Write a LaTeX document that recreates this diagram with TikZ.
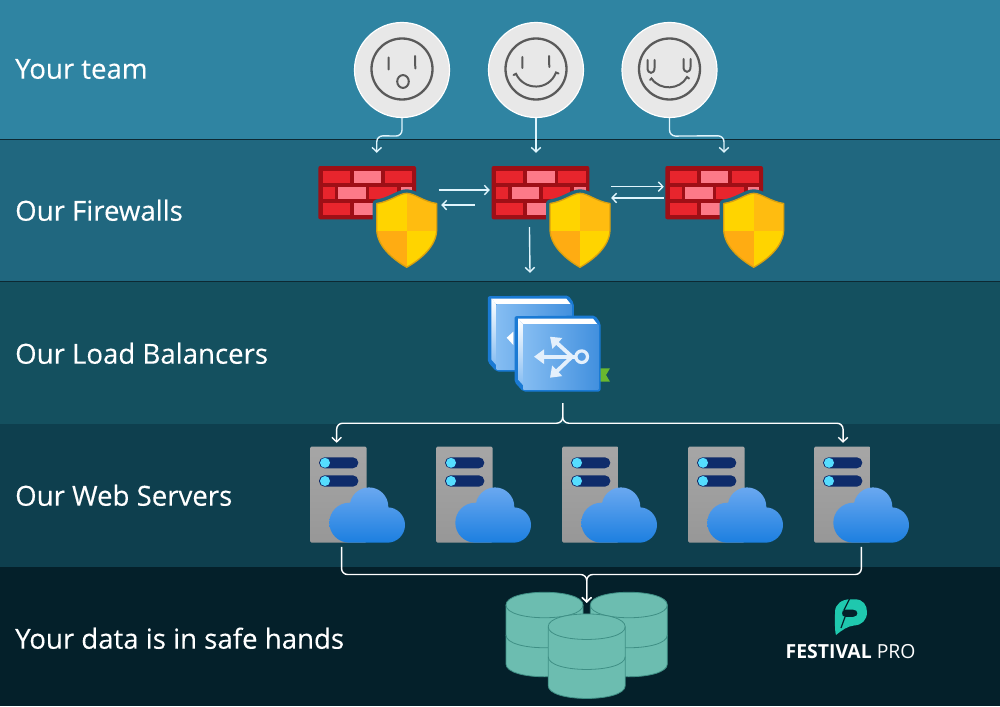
\documentclass[tikz,border=0pt]{standalone}
\usepackage{fontspec}
\setmainfont{Open Sans}
\newfontfamily\labelfont[FakeBold=0.25]{Open Sans}
\usetikzlibrary{arrows.meta,calc}
\definecolor{bandA}{HTML}{2F84A2}
\definecolor{bandB}{HTML}{20677F}
\definecolor{bandC}{HTML}{14505F}
\definecolor{bandD}{HTML}{0E3F4E}
\definecolor{bandE}{HTML}{04202A}
\definecolor{faceg}{HTML}{5A5A5A}
\definecolor{faceb}{HTML}{E8E8E8}
\definecolor{wallD}{HTML}{9E0F16}
\definecolor{wallR}{HTML}{E8252D}
\definecolor{wallP}{HTML}{FC7A88}
\definecolor{shY}{HTML}{FFD400}
\definecolor{shO}{HTML}{FFAC12}
\definecolor{shT}{HTML}{FFBC10}
\definecolor{shE}{HTML}{D9A010}
\definecolor{bookE}{HTML}{1A7AD4}
\definecolor{bookL}{HTML}{85BDF2}
\definecolor{bookR}{HTML}{4290DE}
\definecolor{iconW}{HTML}{E4F0FC}
\definecolor{slotC}{HTML}{0F2C6B}
\definecolor{dotC}{HTML}{55DDFF}
\definecolor{srvT}{HTML}{A6A6A6}
\definecolor{srvB}{HTML}{979797}
\definecolor{cloudT}{HTML}{6AA8F0}
\definecolor{cloudB}{HTML}{1C7FE0}
\definecolor{dbF}{HTML}{6CBDB0}
\definecolor{dbE}{HTML}{3F8F85}
\definecolor{logoT}{HTML}{1FC8AE}
\definecolor{flagC}{HTML}{6AB82E}
\tikzset{
  label/.style={anchor=base west,inner sep=0pt,text=white,font=\labelfont\fontsize{27.6}{32}\selectfont},
  facenode/.style={circle,minimum size=95pt,inner sep=0pt,fill=faceb,draw=white,line width=1.2pt},
  ring/.style={draw=faceg,line width=2.3pt},
  feat/.style={draw=faceg,line width=2pt,line cap=round},
  conn/.style={draw=white,line width=1.4pt,rounded corners=6pt,-{Straight Barb[length=4.5pt,width=9.5pt,line width=1.4pt]}},
  connlight/.style={conn,draw=white!88!cyan},
  wallnode/.style={rectangle,minimum width=97.7pt,minimum height=53.3pt,inner sep=0pt,fill=wallD,rounded corners=2pt},
  srvnode/.style={rectangle,minimum width=56.7pt,minimum height=96pt,inner sep=0pt,top color=srvT,bottom color=srvB,rounded corners=1.5pt},
  hold/.style={rectangle,inner sep=0pt,draw=none},
  iconarrow/.style={draw=iconW,line width=3.8pt,-{Triangle[length=10pt,width=14pt]}},
}
\def\shieldpath{(88.4,27.3) .. controls (81,27.3) and (72,35.5) .. (58.4,37.5) -- (58.4,64) .. controls (59,80) and (74,93) .. (88.4,101.3) .. controls (103,93) and (118,80) .. (118.4,64) -- (118.4,37.5) .. controls (105,35.5) and (96,27.3) .. (88.4,27.3) -- cycle}
\newcommand{\firewall}[2]{%
 \begin{scope}[shift={(#1,#2)}]
  \fill[wallR] (4.4,4.7) rectangle (31.7,16.7);
  \fill[wallP] (35.7,4.7) rectangle (63,16.7);
  \fill[wallR] (66.7,4.7) rectangle (94,16.7);
  \fill[wallR] (4.4,20.7) rectangle (16.7,33);
  \fill[wallP] (20,20.7) rectangle (47.4,33);
  \fill[wallR] (51,20.7) rectangle (78.4,33);
  \fill[wallP] (82.4,20.7) rectangle (94,33);
  \fill[wallR] (4.4,36.7) rectangle (31.7,49);
  \fill[wallP] (35.7,36.7) rectangle (63,49);
  \fill[wallR] (66.7,36.7) rectangle (94,49);
  \path[fill=bandB,draw=bandB,line width=8pt,line join=round] \shieldpath;
  \begin{scope}
   \clip \shieldpath;
   \fill[shY] (58,20) rectangle (88.4,65);
   \fill[shT] (88.4,20) rectangle (120,65);
   \fill[shO] (58,65) rectangle (88.4,105);
   \fill[shY] (88.4,65) rectangle (120,105);
  \end{scope}
  \draw[shE,line width=1.3pt,line join=round] \shieldpath;
 \end{scope}}
\newcommand{\bookicon}[2]{%
 \begin{scope}[shift={(#1,#2)}]
  \fill[bookE,rounded corners=2pt] (514.5,316.2) -- (595,315.5) -- (600.5,323) -- (600.5,391.5) -- (523,391.5) -- (514.5,382) -- cycle;
  \fill[white] (518,318.6) -- (593,318.6) -- (597.5,324.3) -- (523.3,324.3) -- cycle;
  \shade[top color=white,bottom color=bookL] (518,318.6) -- (523.3,324.3) -- (523.3,385.5) -- (518,379.5) -- cycle;
  \shade[left color=bookL,right color=bookR] (523.3,324.3) rectangle (598.3,389.6);
 \end{scope}}
\newcommand{\servericon}[1]{%
 \begin{scope}[shift={(#1,446.7)}]
  \fill[slotC,rounded corners=5.5pt] (9,10.6) rectangle (48.3,21.6);
  \fill[slotC,rounded corners=5.5pt] (9,28.6) rectangle (48.3,40);
  \fill[dotC] (15,16.1) circle[radius=5pt];
  \fill[dotC] (15,34.3) circle[radius=5pt];
  \shade[top color=cloudT,bottom color=cloudB]
    (39.3,76) circle[radius=20pt] (59,60) circle[radius=19.3pt] (77.3,78.3) circle[radius=17.7pt]
    (39.3,96) -- (77.3,96) -- (77.3,60) -- (39.3,60) -- cycle;
 \end{scope}}
\newcommand{\dbicon}[2]{%
 \begin{scope}[shift={(#1,#2)}]
  \path[fill=dbF,draw=dbE,line width=.8pt] (-38.5,0) .. controls (-38.5,-17) and (38.5,-17) .. (38.5,0) -- (38.5,59) .. controls (38.5,76) and (-38.5,76) .. (-38.5,59) -- cycle;
  \draw[dbE,line width=.8pt] (-38.5,0) .. controls (-38.5,17) and (38.5,17) .. (38.5,0);
  \draw[dbE,line width=.8pt] (-38.5,30) .. controls (-38.5,47) and (38.5,47) .. (38.5,30);
 \end{scope}}
\begin{document}
\begin{tikzpicture}[x=1pt,y=-1pt]
\useasboundingbox (0,0) rectangle (1000,706);
% bands
\fill[bandA] (0,0) rectangle (1000,139);
\fill[bandB] (0,139) rectangle (1000,282);
\fill[bandC] (0,282) rectangle (1000,424);
\fill[bandD] (0,424) rectangle (1000,567);
\fill[bandE] (0,567) rectangle (1000,706);
\draw[black!60!bandB,line width=.7pt] (0,139) -- (1000,139) (0,281.5) -- (1000,281.5);
% labels
\node[label] (l1) at (15,78.7) {Your team};
\node[label] (l2) at (15,220.7) {Our Firewalls};
\node[label] (l3) at (15,363.7) {Our Load Balancers};
\node[label] (l4) at (15,505.7) {Our Web Servers};
\node[label] (l5) at (15,648.7) {Your data is in safe hands};
% faces
\node[facenode] (face1) at (402,70) {};
\node[facenode] (face2) at (536,70) {};
\node[facenode] (face3) at (669.5,70) {};
\draw[ring] (402,69) circle[radius=30.5pt];
\draw[feat] (388.7,57.5) -- (388.7,69.5) (415,56) -- (415.3,68.5);
\draw[feat] (403,81.5) ellipse[x radius=5.8pt,y radius=6.4pt];
\draw[ring] (536,69) circle[radius=30.5pt];
\draw[feat] (522.3,57) -- (522.3,68) (549,56) -- (549.3,67);
\draw[feat] (513.5,75) -- (516,73.8) .. controls (524,91) and (549,91) .. (556,72.5) -- (558.5,73.5);
\draw[ring] (669.5,69) circle[radius=30.5pt];
\draw[feat] (647.5,60) -- (647.5,68) .. controls (647.5,74.5) and (654.5,74.5) .. (654.5,68) -- (654.5,60);
\draw[feat] (683.5,59) -- (683.5,67) .. controls (683.5,73.5) and (690.5,73.5) .. (690.5,67) -- (690.5,59);
\draw[feat] (650,80) -- (651.5,78.5) .. controls (660,91) and (680,90) .. (687,77) -- (689,78.5);
% firewalls
\node[wallnode] (fw1) at (367.15,192.65) {};
\firewall{318.3}{166}
\node[wallnode] (fw2) at (540.45,192.65) {};
\firewall{491.6}{166}
\node[wallnode] (fw3) at (714.15,192.65) {};
\firewall{665.3}{166}
% face to firewall
\draw[connlight] (face1.south) -- ($(face1.south)+(0,18)$) -- ($(fw1.north)+(9.6,-30)$) -- ($(fw1.north)+(9.6,-13)$);
\draw[connlight] (face2.south) -- ($(fw2.north)+(-4.45,-13)$);
\draw[connlight] (face3.south) -- ($(face3.south)+(0,18)$) -- ($(fw3.north)+(9.85,-30)$) -- ($(fw3.north)+(9.85,-13)$);
% between firewalls
\draw[connlight] ($(fw1.east)+(22.3,-2.6)$) -- ($(fw2.west)+(-1.6,-2.6)$);
\draw[connlight] ($(fw2.west)+(-16.6,12.4)$) -- ($(fw1.east)+(25,12.4)$);
\draw[connlight] ($(fw2.east)+(21.6,-6)$) -- ($(fw3.west)+(-1.3,-6)$);
\draw[connlight] ($(fw3.west)+(-1.3,5.3)$) -- ($(fw2.east)+(21.6,5.3)$);
% load balancer
\node[hold,minimum width=111pt,minimum height=95pt] (lb) at (544.5,343.5) {};
\bookicon{-26.7}{-20}
\fill[white] (506.7,337.7) -- (513.3,331.7) -- (513.3,345) -- cycle;
\fill[flagC] (600,368.3) -- (610,368.3) -- (606,375) -- (610,381.7) -- (600,381.7) -- cycle;
\bookicon{0}{0}
\draw[iconarrow] (575,356.7) -- (534,356.7);
\draw[iconarrow] (572,356.7) -- (550,336.7);
\draw[iconarrow] (572,356.7) -- (550,377.7);
\draw[iconW,line width=3.2pt,fill=bookR!70!bookL] (581.7,356.7) circle[radius=5.8pt];
% servers
\foreach \i/\x in {1/310,2/436,3/562,4/688,5/814}{
  \node[srvnode] (srv\i) at (\x+28.35,494.7) {};
  \servericon{\x}
}
% firewall to lb
\draw[connlight] ($(fw2.south)+(-11,7.7)$) -- ($(lb.north)+(-14.5,-23)$);
% databases
\node[hold,minimum width=77pt,minimum height=85pt] (db1) at (544.5,635) {};
\node[hold,minimum width=77pt,minimum height=85pt] (db2) at (628.8,635) {};
\node[hold,minimum width=77pt,minimum height=85pt] (db3) at (586.7,656) {};
\dbicon{544.5}{605}
\dbicon{628.8}{605}
\dbicon{586.7}{626.7}
% lb to servers
\draw[conn] (lb.south) ++(18.2,12) -- ++(0,20) -| ($(srv1.north)+(-1.7,-3.7)$);
\draw[conn] (lb.south) ++(18.2,12) -- ++(0,20) -| ($(srv5.north)+(0.7,-3.7)$);
% servers to data
\draw[conn] ($(srv1.south)+(3.2,4)$) |- (575,574.5) -- (586.7,574.5) -- ($(db3.north)+(0,-10.5)$);
\draw[conn] ($(srv5.south)+(19,4)$) |- (598,574.5) -- (586.7,574.5) -- ($(db3.north)+(0,-10.5)$);
% logo
\fill[logoT,even odd rule] (836,635) .. controls (834.5,630) and (835,620) .. (835,612) .. controls (835,604) and (842,599.3) .. (850,599.3) -- (855,599.3) .. controls (863,599.3) and (867,605) .. (867,612) .. controls (867,620) and (862,625) .. (854,625.5) .. controls (848,626) and (842,630) .. (836,635) -- cycle
  (845,609.5) -- (853,609.5) .. controls (859,609.5) and (859,617) .. (853,617) -- (845,617) .. controls (841,617) and (841,609.5) .. (845,609.5) -- cycle;
\draw[bandE,line width=1.2pt] (850,598) -- (844,610) (845,617) -- (841,628);
\node[anchor=base west,inner sep=0pt,text=white,font=\fontsize{19.4}{22}\selectfont] (logo) at (785.5,658) {\textbf{FESTIVAL} PRO};
\end{tikzpicture}
\end{document}
